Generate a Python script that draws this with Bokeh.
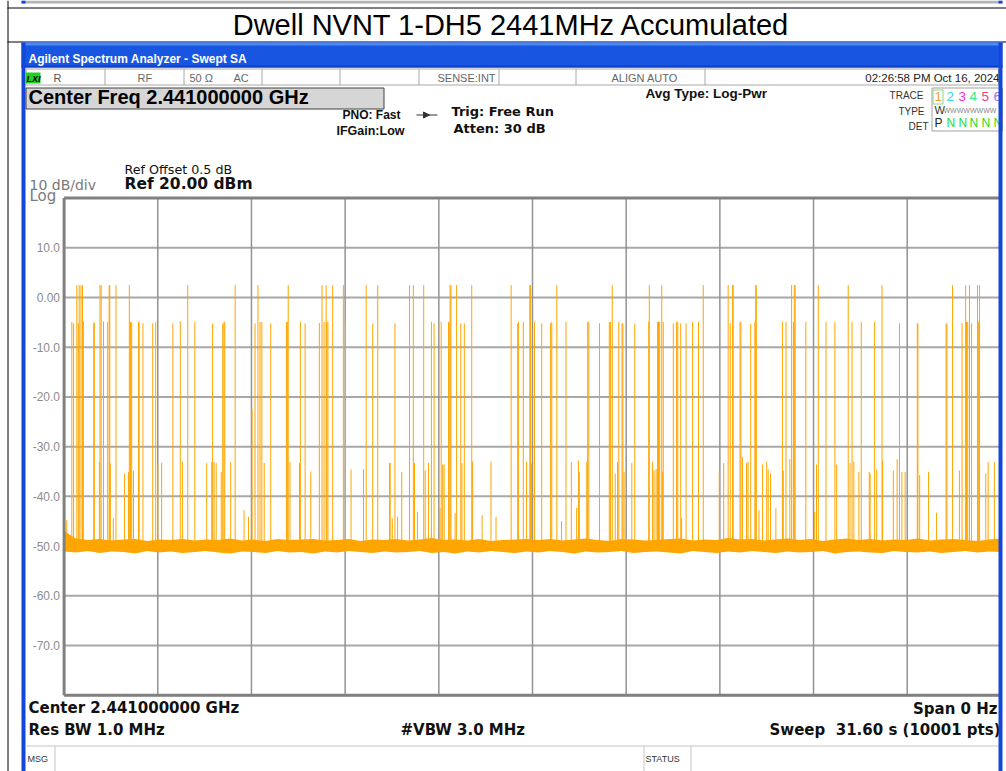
from bokeh.plotting import figure
from bokeh.models import Range1d
from bokeh.embed import file_html
from bokeh.resources import INLINE
from bokeh.core.properties import value

# ------------------------------------------------------------------ data
title_text = "Dwell NVNT 1-DH5 2441MHz Accumulated"
sweep_s = 31.6          # sweep time shown across the graticule (s)
ref_dbm = 20.0          # reference level (top line)
bottom_dbm = -80.0      # bottom line (10 dB/div, 10 divisions)
floor_dbm = -50.0       # spikes rise from the noise floor

x_div_s = [0.0, 3.16, 6.32, 9.48, 12.64, 15.8, 18.96, 22.12, 25.28, 28.44, 31.6]
y_div_dbm = [20, 10, 0, -10, -20, -30, -40, -50, -60, -70, -80]
y_tick_dbm = [10, 0, -10, -20, -30, -40, -50, -60, -70]
y_tick_labels = ["10.0", "0.00", "-10.0", "-20.0", "-30.0", "-40.0", "-50.0", "-60.0", "-70.0"]

# burst peaks (time in s, peak level in dBm)
burst_t = [
    0.09, 0.26, 0.32, 0.43, 0.48, 0.51, 0.57, 0.62, 0.65,
    1.00, 1.02, 1.19, 1.21, 1.25, 1.33, 1.47, 1.52, 1.54, 1.56,
    1.66, 1.75, 2.04, 2.17, 2.20, 2.24, 2.28, 2.34, 2.51, 2.53,
    2.66, 2.99, 3.09, 3.16, 3.29, 3.67, 3.92, 3.99, 4.17, 4.41,
    4.81, 4.98, 5.01, 5.06, 5.13, 5.30, 5.35, 5.39, 5.42, 5.62,
    5.77, 6.07, 6.22, 6.34, 6.44, 6.54, 6.61, 6.67, 6.75, 6.97,
    7.50, 7.53, 7.56, 7.62, 7.94, 7.97, 8.13, 8.32, 8.61, 8.70,
    8.77, 8.84, 8.86, 8.90, 9.06, 9.42, 9.49, 9.68,
    10.10, 10.19, 10.41, 10.58, 10.98, 11.00, 11.07, 11.16, 11.25, 11.39,
    11.65, 11.78, 11.82, 11.92, 12.13, 12.18, 12.29, 12.39, 12.48, 12.68,
    12.72, 12.77, 12.82, 12.97, 12.99, 13.02, 13.05, 13.19, 13.24, 13.38,
    13.42, 13.50, 13.75, 13.78, 14.10, 14.40, 14.57, 15.08, 15.30, 15.33,
    15.49, 15.60, 15.71, 15.73, 15.77, 15.87, 16.11, 16.41, 16.45, 16.62,
    16.78, 16.93, 17.11, 17.29, 17.35, 17.38, 17.63, 17.66, 17.70, 18.06,
    18.39, 18.43, 18.49, 18.59, 18.67, 18.71, 18.82, 18.85, 18.89, 19.15,
    19.25, 19.72, 19.74, 19.85, 19.90, 19.97, 20.02, 20.05, 20.09,
    20.16, 20.19, 20.21, 20.55, 20.66, 20.70, 20.80, 20.83, 20.98, 21.20,
    21.40, 21.56, 22.10, 22.25, 22.40, 22.47, 22.55, 22.57, 22.80, 22.83,
    22.88, 23.02, 23.07, 23.16, 23.30, 23.33, 23.35, 23.44, 23.56, 23.70,
    23.75, 23.83, 24.01, 24.23, 24.26, 24.35, 24.48, 24.54, 24.60, 24.63,
    24.66, 25.02, 25.32, 25.38, 25.44, 25.70, 26.00, 26.06, 26.45, 26.51,
    26.58, 26.64, 26.81, 26.89, 27.16, 27.19, 27.34, 27.41, 27.59, 27.61,
    27.97, 28.10, 28.18, 28.26, 28.37, 28.78, 28.80, 28.86, 29.16, 29.43,
    29.75, 29.78, 29.97, 30.20, 30.29, 30.41, 30.44, 30.48, 30.54, 30.61,
    30.81, 30.85, 30.88, 31.09, 31.17, 31.38,
]
burst_dbm = [
    -44.8, -4.9, -5.2, 2.5, -5.2, 2.5, 2.5, 2.5, -4.8,
    -5.2, -5.0, -33.1, 2.5, 2.5, -4.8, -4.9, 2.5, 2.5, -33.4,
    -44.4, 2.5, -35.4, -35.1, 2.5, -4.9, -5.0, -34.8, -4.9, -5.0,
    -5.2, -5.2, -4.9, -33.6, -33.3, -5.2, -4.8, -33.0, 2.5, -4.9,
    -33.3, -33.1, -5.2, -33.1, -33.3, -35.1, -5.3, -5.0, -4.9, -33.1,
    2.5, -42.8, -44.1, -22.5, -5.2, 2.5, -4.9, -4.9, -33.3, -5.2,
    -4.9, -4.9, 2.5, -33.1, -33.3, -4.9, -5.2, -35.0, -5.1, 2.5,
    -4.9, 2.5, -4.9, -4.9, 2.5, 2.5, -4.9, -34.6,
    -34.5, 2.5, -5.2, 2.5, -33.3, -33.3, -44.4, -5.2, -44.1, -35.1,
    2.5, 2.5, -33.3, -43.1, 2.5, -34.8, -33.3, -4.9, -5.2, -42.4,
    -4.9, -33.6, -33.6, -4.9, -4.9, 2.5, 2.5, -43.4, 2.5, -5.2,
    -33.3, -5.2, 2.5, -33.0, -43.8, -33.0, -44.1, 2.5, -5.2, -4.9,
    -4.9, -33.0, 2.5, 2.5, -33.4, -4.9, -5.2, -5.2, -4.9, 2.5,
    -45.0, -4.9, -33.1, -42.3, -32.8, -35.1, -33.0, -4.9, -4.9, -5.2,
    -4.9, -4.9, 2.5, -35.4, -33.1, -4.9, -5.2, -5.2, -35.1, -33.3,
    -5.2, -4.9, 2.5, -33.0, -34.8, -34.5, -4.9, -4.9, -4.9,
    2.5, -35.1, -4.9, -5.2, -4.9, -4.9, -5.2, -44.4, -5.2, -4.9,
    -4.9, 2.5, -35.1, -33.3, 2.5, -5.2, 2.5, 2.5, -4.9, -4.9,
    -32.1, -33.3, -33.0, -5.3, -4.9, 2.5, 2.5, -42.8, -33.6, -33.0,
    -34.6, -35.4, -42.4, -4.9, -34.8, -4.9, -32.5, 2.5, -4.9, 2.5,
    2.5, -4.9, -43.1, -33.6, 2.5, -4.9, -4.9, -33.6, 2.5, -33.3,
    -4.9, -33.0, -35.1, -4.9, -35.1, -35.4, -4.9, -34.6, 2.5, -32.8,
    -34.8, -32.5, -5.2, -35.1, -35.1, -5.2, -5.2, -35.7, -35.1, -43.3,
    -5.2, -5.2, 2.5, -34.8, -5.2, 2.5, -4.9, -4.9, 2.5, -5.2,
    2.5, -4.9, 2.5, -35.4, -33.1, -33.1,
]

# noise floor envelope (time in s, upper / lower edge in dBm)
noise_t = [
    0.0, 0.4, 0.8, 1.2, 1.6, 2.0, 2.4, 2.8, 3.2, 3.6,
    4.0, 4.4, 4.8, 5.2, 5.6, 6.0, 6.4, 6.8, 7.2, 7.6,
    8.0, 8.4, 8.8, 9.2, 9.6, 10.0, 10.4, 10.8, 11.2, 11.6,
    12.0, 12.4, 12.8, 13.2, 13.6, 14.0, 14.4, 14.8, 15.2, 15.6,
    16.0, 16.4, 16.8, 17.2, 17.6, 18.0, 18.4, 18.8, 19.2, 19.6,
    20.0, 20.4, 20.8, 21.2, 21.6, 22.0, 22.4, 22.8, 23.2, 23.6,
    24.0, 24.4, 24.8, 25.2, 25.6, 26.0, 26.4, 26.8, 27.2, 27.6,
    28.0, 28.4, 28.8, 29.2, 29.6, 30.0, 30.4, 30.8, 31.2, 31.6,
]
noise_hi = [
    -47.0, -48.5, -48.8, -48.6, -48.9, -48.7, -48.6, -49.0, -48.7, -48.8,
    -48.6, -48.9, -48.7, -48.8, -48.5, -48.9, -48.7, -49.0, -48.6, -48.8,
    -48.7, -48.6, -48.9, -48.8, -48.6, -49.0, -48.7, -48.8, -48.6, -48.9,
    -48.7, -48.4, -48.8, -48.7, -48.9, -48.6, -49.0, -48.8, -48.7, -48.6,
    -48.8, -48.6, -48.9, -48.7, -48.5, -48.8, -49.0, -48.6, -48.7, -48.9,
    -48.8, -48.6, -48.5, -48.9, -48.7, -48.8, -48.4, -48.7, -48.6, -48.9,
    -48.7, -48.5, -48.8, -48.6, -49.0, -48.7, -48.5, -48.8, -48.6, -48.9,
    -48.7, -48.8, -48.5, -48.9, -48.7, -48.6, -48.8, -49.0, -48.7, -48.5,
]
noise_lo = [
    -51.1, -51.3, -51.0, -51.4, -51.1, -51.2, -51.5, -51.0, -51.3, -51.1,
    -51.4, -51.2, -51.0, -51.3, -51.5, -51.1, -51.2, -51.4, -51.0, -51.3,
    -51.2, -51.5, -51.1, -51.3, -51.0, -51.2, -51.4, -51.1, -51.3, -51.2,
    -51.0, -51.4, -51.2, -51.5, -51.1, -51.3, -51.0, -51.2, -51.4, -51.1,
    -51.3, -51.0, -51.2, -51.5, -51.1, -51.3, -51.2, -51.0, -51.4, -51.2,
    -51.1, -51.3, -51.5, -51.0, -51.2, -51.4, -51.1, -51.3, -51.0, -51.2,
    -51.4, -51.1, -51.3, -51.2, -51.0, -51.5, -51.2, -51.1, -51.3, -51.4,
    -51.0, -51.2, -51.3, -51.1, -51.4, -51.2, -51.0, -51.3, -51.1, -51.2,
]

# ------------------------------------------------------------------ layout
W, H = 1006, 771           # canvas size (the page template has no margin)
PL, PR, PT, PB = 63.6, 1000.4, 197.6, 694.7   # graticule edges on the page
ORANGE = "#FFA500"
NBSP = "\u00a0"

px_per_s = (PR - PL) / sweep_s
px_per_db = (PB - PT) / (ref_dbm - bottom_dbm)
t_start = -PL / px_per_s
t_end = t_start + W / px_per_s
db_end = ref_dbm + PT / px_per_db
db_start = db_end - H / px_per_db

p = figure(width=W, height=H, x_range=Range1d(0, W), y_range=Range1d(H, 0),
           min_border=0, x_axis_location=None, y_axis_location=None,
           toolbar_location=None, output_backend="svg")
p.extra_x_ranges = {"t": Range1d(t_start, t_end)}
p.extra_y_ranges = {"db": Range1d(db_start, db_end)}
p.outline_line_color = None
p.background_fill_color = "white"
p.border_fill_color = "white"
p.grid.visible = False


def box(x0, y0, x1, y1, fill=None, line=None, lw=1):
    p.quad(left=x0, right=x1, top=y0, bottom=y1,
           fill_color=fill, line_color=line, line_width=lw)


def hline(x0, x1, y, color, lw=1):
    p.segment(x0=x0, y0=y, x1=x1, y1=y, line_color=color, line_width=lw)


def vline(x, y0, y1, color, lw=1):
    p.segment(x0=x, y0=y0, x1=x, y1=y1, line_color=color, line_width=lw)


def txt(x, base, s, size, color="black", font="Liberation Sans", style="normal", align="left"):
    # `base` is the wanted text baseline; the text is anchored at its middle
    p.text(x=[x], y=[base - 0.35 * size], text=[s], text_font=value(font),
           text_font_size=value(f"{size}px"), text_font_style=style,
           text_color=color, text_align=align, text_baseline="middle")


# ---- report table: previous row edge, cell borders and title
box(21, 0, 1002, 3, fill="#B4B4B4")
box(21, 0, 25, 3, fill="#1247DA")
box(998, 0, 1002, 3, fill="#1247DA")
hline(7, 1006, 7.5, "black")
vline(7.5, 0, 771, "black")
txt(511, 35, title_text, 29, align="center")
hline(7, 1006, 41.5, "black")

# ---- analyzer window chrome
box(21, 42, 1002, 67, fill="#1856E2")
box(21, 42, 1002, 45, fill="#4C88F2")
box(21, 65, 1002, 67, fill="#0C40C8")
txt(28, 62.5, "Agilent Spectrum Analyzer - Swept SA", 12, "white", style="bold")
box(21, 42, 25, 771, fill="#1247DA")

# status row
box(25.5, 68.5, 998, 84.5, fill="white", line="#A8A8A8")
for xs in [104.5, 183.5, 261.5, 339.5, 418.5, 498.5, 575.5, 704.5]:
    vline(xs, 68.5, 84.5, "#A8A8A8")
box(25, 72, 40, 83, fill="#22D022")
txt(26, 81.5, "LXI", 9, "black", style="bold italic")
txt(53, 81.5, "R", 11, "#555555")
txt(137, 81.5, "RF", 11, "#666666")
txt(189, 81.5, "50 \u03a9", 11, "#666666")
txt(233, 81.5, "AC", 11, "#666666")
txt(437, 81.5, "SENSE:INT", 11, "#666666")
txt(611, 81.5, "ALIGN AUTO", 11, "#666666")
txt(999, 81.5, "02:26:58 PM Oct 16, 2024", 11.5, "#222222", align="right")

# centre frequency box
box(25.5, 87.5, 383.5, 108.5, fill="#D6D6D6", line="#404040")
txt(28, 103.5, "Center Freq 2.441000000 GHz", 20, style="bold")

txt(400, 118.5, "PNO: Fast", 12, "#111111", style="bold", align="right")
txt(404, 134.5, "IFGain:Low", 12.5, "#111111", style="bold", align="right")
hline(416, 437, 114.5, "#333333")
p.patch(x=[423, 423, 429], y=[111.5, 117.5, 114.5], fill_color="#333333", line_color="#333333")
txt(451, 116, "Trig: Free Run", 13, "#111111", font="DejaVu Sans", style="bold")
txt(453, 132.7, "Atten: 30 dB", 13, "#111111", font="DejaVu Sans", style="bold")
txt(645, 97.5, "Avg Type: Log-Pwr", 13.5, "#111111", style="bold")

# trace legend panel
NARROW = "Liberation Sans Narrow, Liberation Sans"
txt(923, 98.3, "TRACE", 10, "#333333", font=NARROW, align="right")
txt(924, 114, "TYPE", 10, "#333333", font=NARROW, align="right")
txt(928, 129.3, "DET", 10, "#333333", font=NARROW, align="right")
box(931.5, 87.5, 1002, 130.5, fill="white", line="#A0A0A0")
box(932.5, 89.5, 942.5, 103.5, line="#8CD48C")
for xd, dig, col in [(934, "1", "#F0A030"), (946, "2", "#30D8F0"), (958, "3", "#F030D8"),
                     (969, "4", "#30E890"), (981, "5", "#F04080"), (993, "6", "#A070F0")]:
    txt(xd, 101, dig, 13.5, col)
txt(934, 113.5, "W", 11, "#333333")
txt(943, 112.5, "WWWWWWWW", 7, "#888888")
txt(934, 126.5, "P", 12, "#222222")
for xd in [946, 958, 969, 981, 993]:
    txt(xd, 126.5, "N", 12, "#22DD22")

# reference labels
txt(124, 173.3, "Ref Offset 0.5 dB", 12.7, "#111111", font="DejaVu Sans")
txt(124, 189, "Ref 20.00 dBm", 15.5, "#111111", font="DejaVu Sans", style="bold")
txt(29, 189, "10 dB/div", 14, "#7A7A7A", font="DejaVu Sans")
txt(29, 200.5, "Log", 15, "#7A7A7A", font="DejaVu Sans")

# y tick labels (amplitude scale)
p.text(x=59.5, y=y_tick_dbm, text=y_tick_labels, y_range_name="db",
       text_font=value("Liberation Sans"), text_font_size=value("12px"),
       text_color="#8C8C8C", text_align="right", text_baseline="middle")

# ---- graticule
p.segment(x0=0.0, y0=y_div_dbm, x1=sweep_s, y1=y_div_dbm, line_color="#A8A8A8",
          line_width=2, x_range_name="t", y_range_name="db")
p.segment(x0=x_div_s, y0=bottom_dbm, x1=x_div_s, y1=ref_dbm, line_color="#939393",
          line_width=1.5, x_range_name="t", y_range_name="db")

# ---- trace
p.varea(x=noise_t, y1=noise_lo, y2=noise_hi, fill_color=ORANGE,
        x_range_name="t", y_range_name="db")
p.segment(x0=burst_t, y0=floor_dbm, x1=burst_t, y1=burst_dbm, line_color=ORANGE,
          line_width=1, x_range_name="t", y_range_name="db")

# ---- graticule frame
p.segment(x0=0.0, y0=bottom_dbm, x1=0.0, y1=ref_dbm, line_color="#808080", line_width=3,
          x_range_name="t", y_range_name="db")
p.segment(x0=0.0, y0=[ref_dbm, bottom_dbm], x1=sweep_s, y1=[ref_dbm, bottom_dbm],
          line_color="#808080", line_width=3, x_range_name="t", y_range_name="db")

# ---- bottom annotations
BF = "DejaVu Sans"
txt(28, 713, "Center 2.441000000 GHz", 15, "#111111", font=BF, style="bold")
txt(28, 734.5, "Res BW 1.0 MHz", 15, "#111111", font=BF, style="bold")
txt(400, 734.5, "#VBW 3.0 MHz", 15, "#111111", font=BF, style="bold")
txt(997, 713.5, "Span 0 Hz", 15, "#111111", font=BF, style="bold", align="right")
txt(1000, 734.5, "Sweep" + NBSP + NBSP + "31.60 s (10001 pts)", 15, "#111111",
    font=BF, style="bold", align="right")

# status bar
hline(25, 998, 745.5, "#C4C4C4")
vline(54.5, 745.5, 771, "#C4C4C4")
vline(643.5, 745.5, 771, "#C4C4C4")
vline(690.5, 745.5, 771, "#C4C4C4")
txt(27, 761.5, "MSG", 9, "#333333")
txt(645, 761.5, "STATUS", 9, "#333333")

# right window border (drawn last: it hides the right edge of the screen)
box(998, 42, 1002, 771, fill="#1247DA")

open("out.html", "w").write(file_html(p, INLINE))
